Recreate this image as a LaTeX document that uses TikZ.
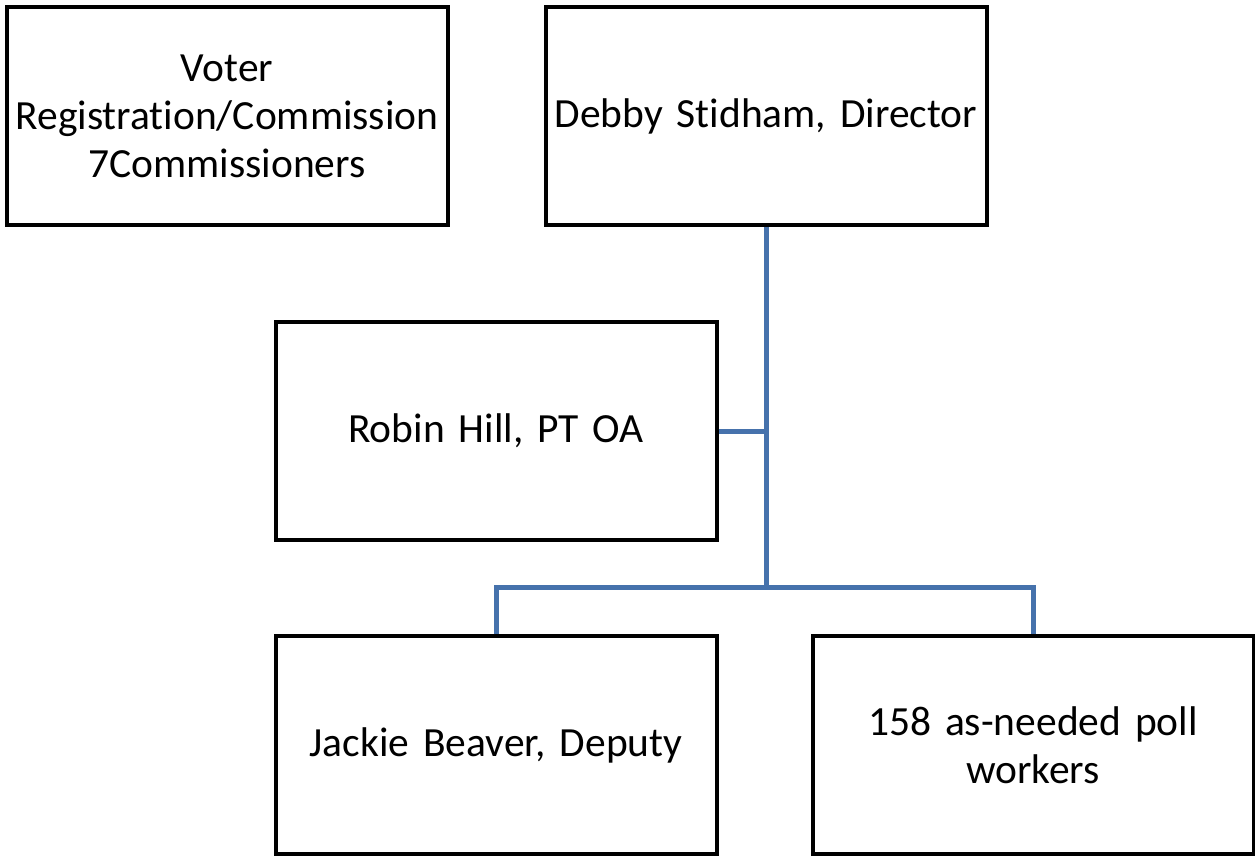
\documentclass[tikz,border=0pt]{standalone}
\usepackage{fontspec}
\setmainfont[Ligatures=NoCommon,WordSpace=0.85]{Carlito}
\usepackage{tikz}
\usetikzlibrary{positioning}
\definecolor{linkblue}{HTML}{4672AC}

\begin{document}
\begin{tikzpicture}[x=1pt,y=-1pt,node distance=94pt]
    \tikzstyle{box}=[draw=black,fill=white,line width=4pt,minimum width=441pt,minimum height=218pt,inner sep=0pt,outer sep=2pt,text width=436pt,align=center,font=\fontsize{41.5}{48}\selectfont]
    \tikzstyle{link}=[draw=linkblue,line width=5pt]
    \useasboundingbox (0,0) rectangle (1255,861);
    \node[box] (voter)                      at (227,116) {Voter\\Registration/Commission\\7Commissioners};
    \node[box] (director) [right=of voter]               {Debby Stidham, Director};
    \node[box] (hill)                       at (496,431) {Robin Hill, PT OA};
    \node[box] (deputy)   [below=92pt of hill]           {Jackie Beaver, Deputy};
    \node[box] (workers)  [right=92pt of deputy]         {158 as-needed poll\\workers};
    \coordinate (bus) at (director.south |- 0,587);
    \draw[link] (director.south) -- (bus)
    (hill.east) -- (hill.east -| bus)
    (deputy.north) |- (bus) -| (workers.north);
\end{tikzpicture}
\end{document}
